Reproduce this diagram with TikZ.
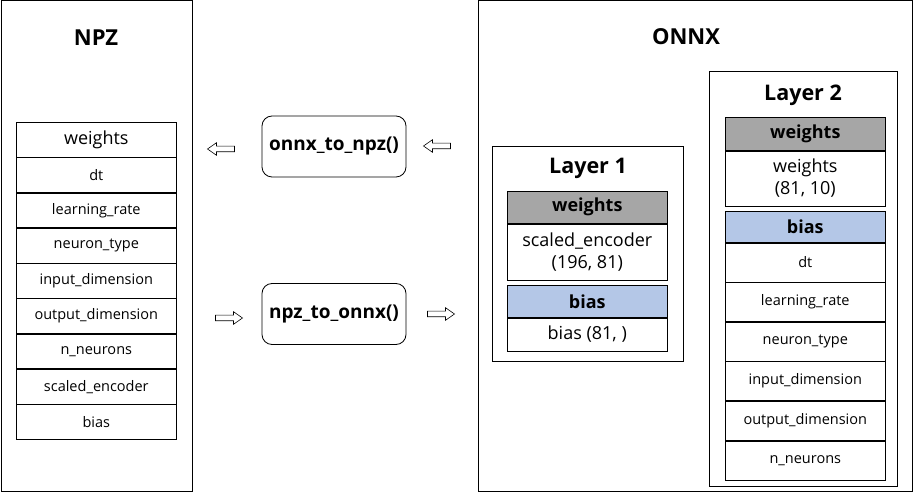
\documentclass[tikz,border=0pt]{standalone}
\usepackage{fontspec}
\setmainfont{Open Sans}
\usetikzlibrary{positioning,shapes.arrows}

\definecolor{hdrgray}{HTML}{A6A6A6}
\definecolor{hdrblue}{HTML}{B4C7E7}

\begin{document}
\begin{tikzpicture}[
    x=1pt, y=-1pt,
    node distance=0pt,
    panel/.style={
        draw,
        line width=0.8pt,
        anchor=north west,
        inner sep=0pt
    },
    title/.style={
        font=\bfseries\fontsize{22}{26}\selectfont
    },
    cell/.style={
        draw,
        line width=0.6pt,
        inner sep=0pt,
        align=center,
        minimum width=160pt,
        font=\fontsize{14.5}{17}\selectfont
    },
    head/.style={
        cell,
        minimum height=32pt,
        font=\bfseries\fontsize{18}{21}\selectfont
    },
    func/.style={
        draw,
        line width=0.8pt,
        rounded corners=10pt,
        minimum width=144pt,
        minimum height=61pt,
        font=\bfseries\fontsize{19}{22}\selectfont
    },
    hollow/.style={
        single arrow,
        draw,
        line width=0.6pt,
        inner sep=2.5pt,
        minimum height=27pt,
        single arrow head extend=3.5pt,
        single arrow tip angle=70
    }
]

\useasboundingbox (0,0) rectangle (914,494);

% NPZ side
\node[panel, minimum width=191pt, minimum height=491pt] (npz) at (0.5,0.5) {};
\node[title] (npztitle) at (96,38) {NPZ};

\node[cell, anchor=north west, minimum height=34.7pt, font=\fontsize{18}{21}\selectfont] (nw) at (16,122) {weights};
\node[cell, minimum height=34.7pt, below=of nw] (ndt) {dt};
\node[cell, minimum height=34.7pt, below=of ndt] (nlr) {learning\_rate};
\node[cell, minimum height=34.7pt, below=of nlr] (nnt) {neuron\_type};
\node[cell, minimum height=34.7pt, below=of nnt] (nin) {input\_dimension};
\node[cell, minimum height=34.7pt, below=of nin] (nout) {output\_dimension};
\node[cell, minimum height=34.7pt, below=of nout] (nn) {n\_neurons};
\node[cell, minimum height=34.7pt, below=of nn] (nse) {scaled\_encoder};
\node[cell, minimum height=34.7pt, below=of nse] (nb) {bias};

% converters
\node[func] (tonpz) at (334,146.5) {onnx\_to\_npz()};
\node[func] (toonnx) at (334,314) {npz\_to\_onnx()};

\node[hollow, shape border rotate=180] (al1) at (223,149) {};
\node[hollow, shape border rotate=180] (ar1) at (439,146) {};
\node[hollow] (al2) at (227,318) {};
\node[hollow] (ar2) at (439,314) {};

% ONNX side
\node[panel, minimum width=434pt, minimum height=491pt] (onnx) at (477.5,0.5) {};
\node[title] (onnxtitle) at (686,37) {ONNX};

% layer 1
\node[panel, line width=0.6pt, minimum width=191pt, minimum height=215pt] (lay1) at (492,146) {};
\node[title, font=\bfseries\fontsize{21.5}{25}\selectfont] (lay1title) at (588,168) {Layer 1};
\node[head, fill=hdrgray, anchor=north west] (l1w) at (507,191) {weights};
\node[cell, minimum height=56pt, below=of l1w, font=\fontsize{18}{22}\selectfont] (l1wv) {scaled\_encoder\\(196, 81)};
\node[head, fill=hdrblue, anchor=north west] (l1b) at (507,285) {bias};
\node[cell, minimum height=33pt, below=of l1b, font=\fontsize{18}{22}\selectfont] (l1bv) {bias (81, )};

% layer 2
\node[panel, line width=0.6pt, minimum width=188pt, minimum height=415pt] (lay2) at (709,71) {};
\node[title, font=\bfseries\fontsize{21.5}{25}\selectfont] (lay2title) at (803,95) {Layer 2};
\node[head, fill=hdrgray, anchor=north west, minimum height=33pt] (l2w) at (725,117) {weights};
\node[cell, minimum height=55pt, below=of l2w, font=\fontsize{18}{22}\selectfont] (l2wv) {weights\\(81, 10)};
\node[head, fill=hdrblue, anchor=north west, minimum height=31pt] (l2b) at (725,211) {bias};
\node[cell, minimum height=39pt, below=of l2b] (l2dt) {dt};
\node[cell, minimum height=39pt, below=of l2dt] (l2lr) {learning\_rate};
\node[cell, minimum height=39pt, below=of l2lr] (l2nt) {neuron\_type};
\node[cell, minimum height=39pt, below=of l2nt] (l2in) {input\_dimension};
\node[cell, minimum height=39pt, below=of l2in] (l2out) {output\_dimension};
\node[cell, minimum height=39pt, below=of l2out] (l2nn) {n\_neurons};

\end{tikzpicture}
\end{document}
